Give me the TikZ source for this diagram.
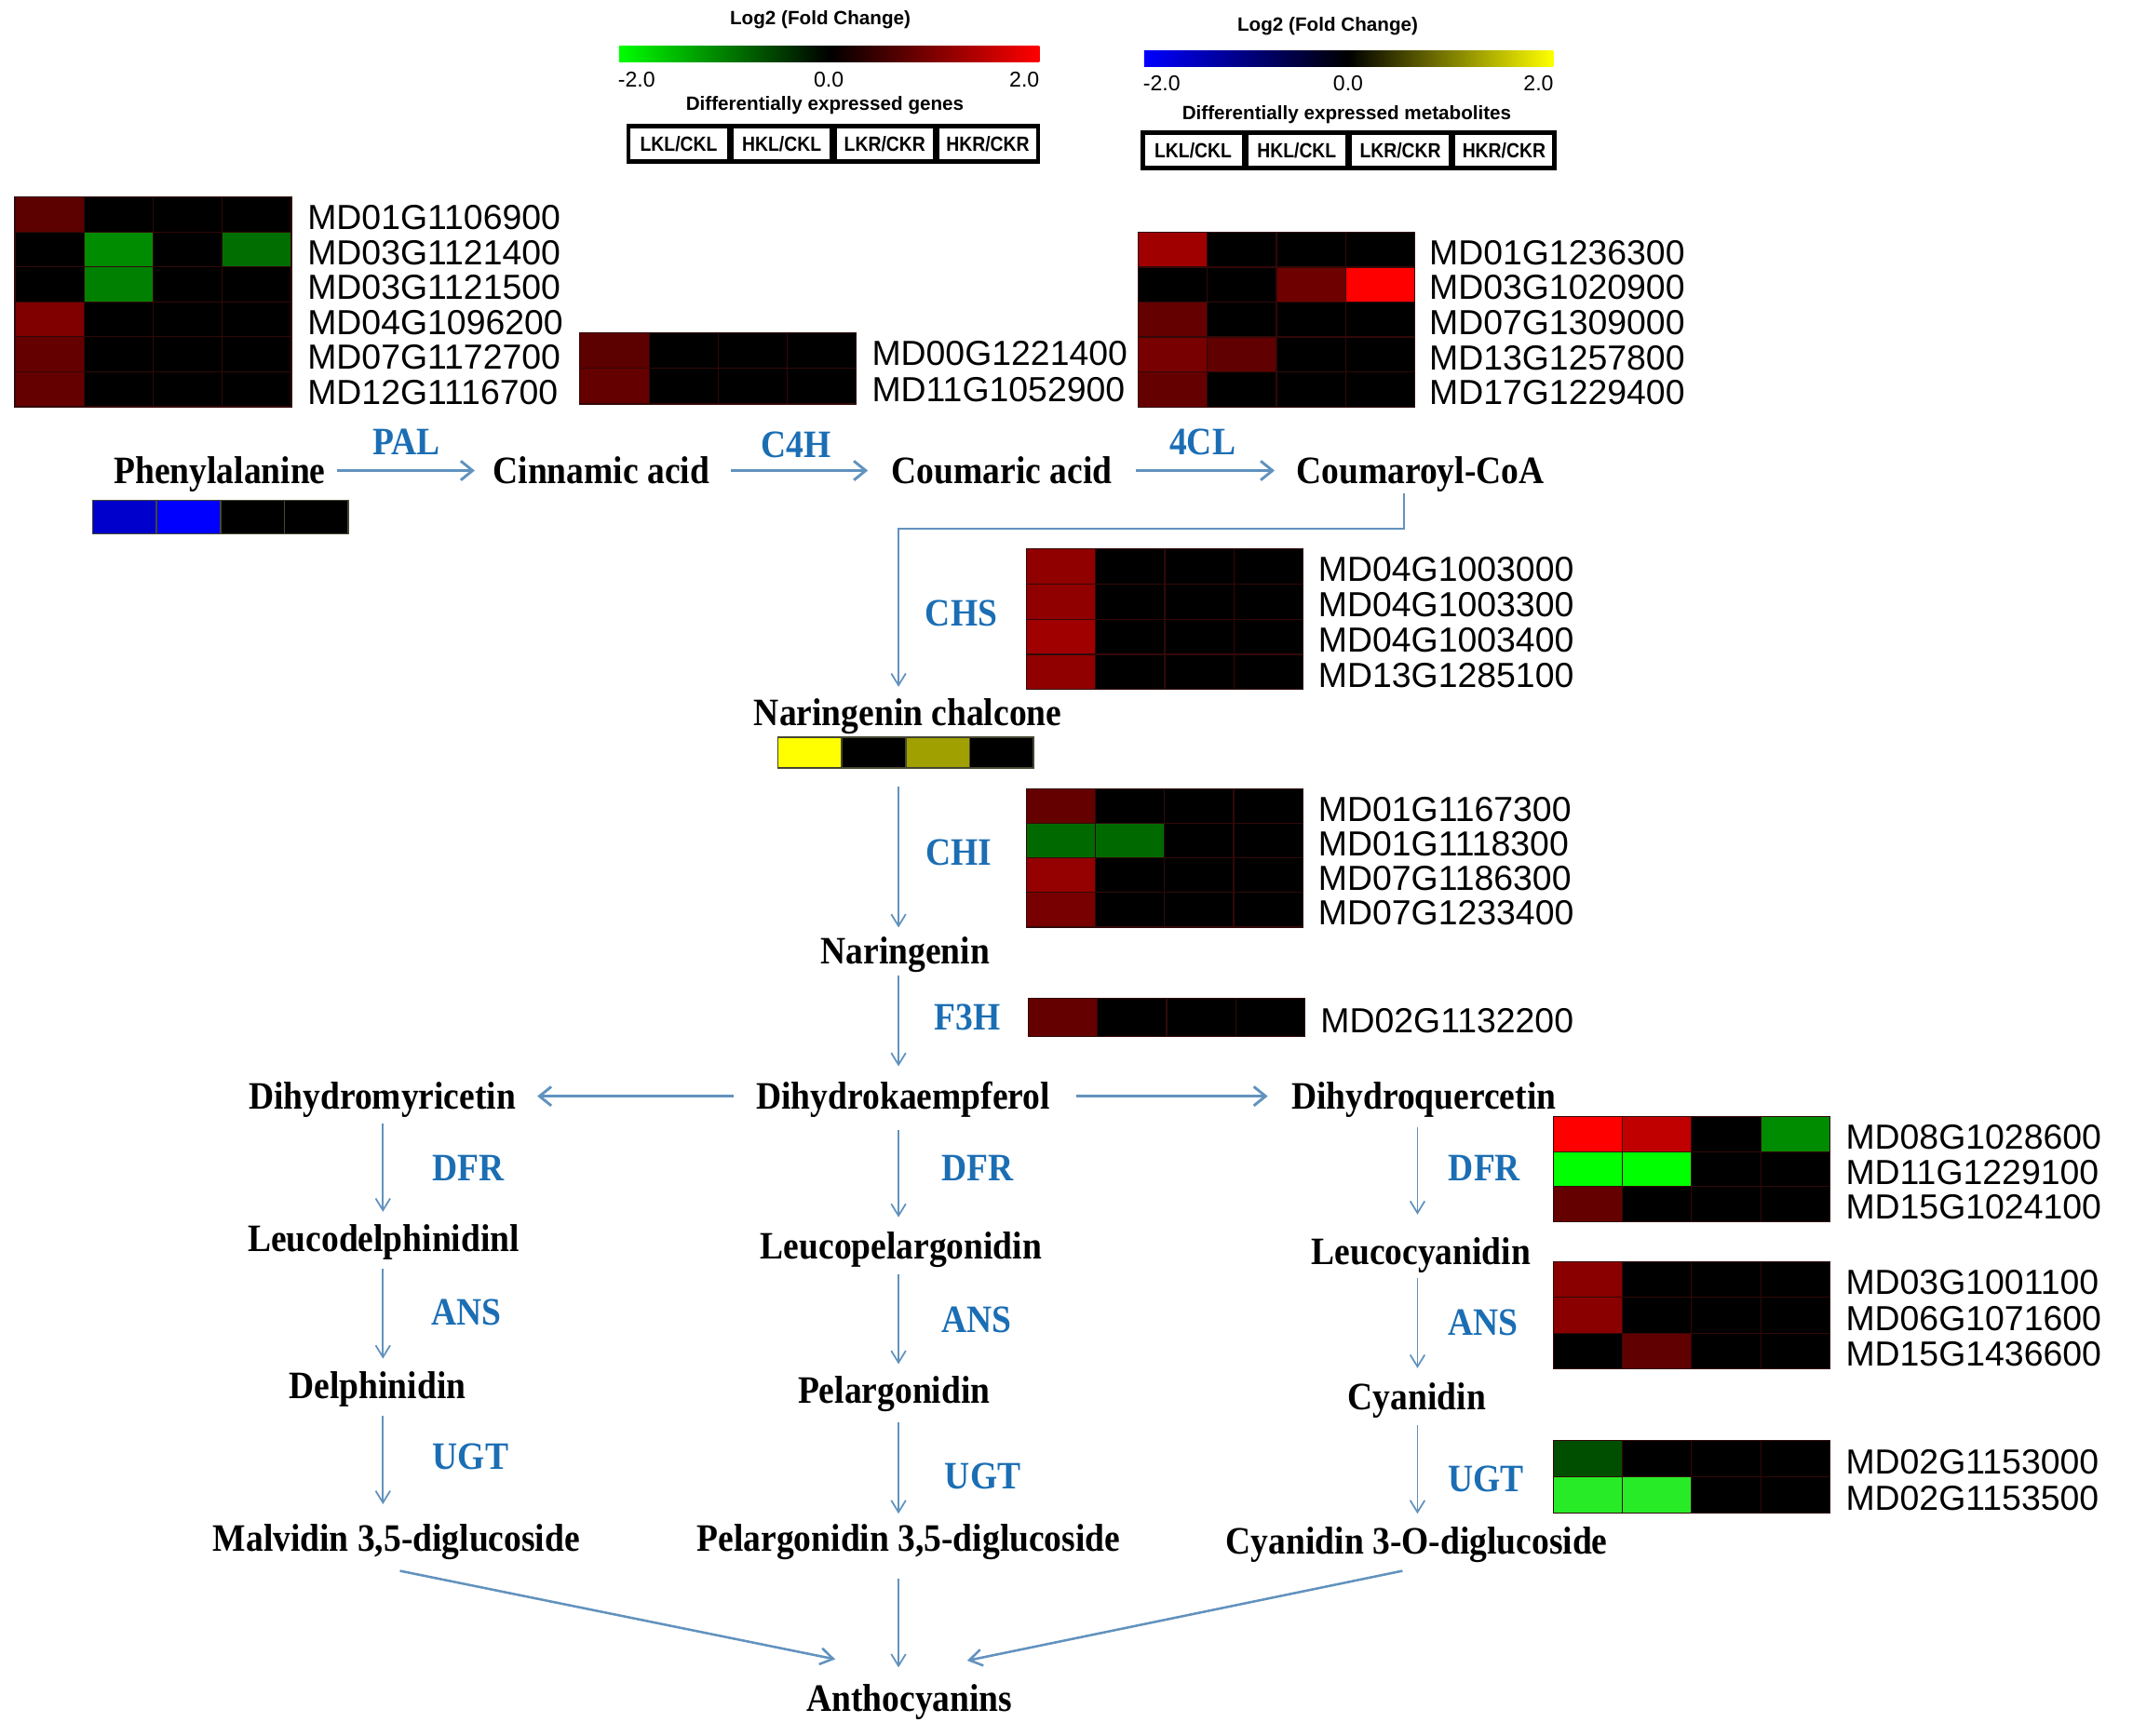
\documentclass[tikz,border=0pt]{standalone}
\usepackage{fontspec}
\setmainfont{Liberation Sans}
\newfontfamily\metabfont[FakeStretch=0.9]{Liberation Serif}
\newfontfamily\boxfont[FakeStretch=0.88]{Liberation Sans}
\usetikzlibrary{arrows.meta}

\definecolor{arrowblue}{RGB}{98,146,190}
\definecolor{enzblue}{RGB}{27,110,180}
\definecolor{hmgrid}{RGB}{50,8,8}
\definecolor{mbord}{RGB}{70,70,50}
\definecolor{kk}{RGB}{0,0,0}
\definecolor{r5a}{RGB}{92,0,0}
\definecolor{r60}{RGB}{96,0,0}
\definecolor{r65}{RGB}{101,0,0}
\definecolor{r6e}{RGB}{110,0,0}
\definecolor{r78}{RGB}{120,0,0}
\definecolor{r80}{RGB}{128,0,0}
\definecolor{r8a}{RGB}{138,0,0}
\definecolor{r90}{RGB}{144,0,0}
\definecolor{r95}{RGB}{149,0,0}
\definecolor{ra0}{RGB}{160,0,0}
\definecolor{rc0}{RGB}{192,0,0}
\definecolor{rff}{RGB}{255,0,0}
\definecolor{g4e}{RGB}{0,78,0}
\definecolor{g6a}{RGB}{0,106,0}
\definecolor{g6e}{RGB}{0,110,0}
\definecolor{g80}{RGB}{0,128,0}
\definecolor{g8c}{RGB}{0,140,0}
\definecolor{gff}{RGB}{0,255,0}
\definecolor{glt}{RGB}{40,235,40}
\definecolor{pb1}{RGB}{0,0,204}
\definecolor{pb2}{RGB}{0,0,255}
\definecolor{yel}{RGB}{255,255,0}
\definecolor{olv}{RGB}{160,160,0}

\tikzset{
  metab/.style={font=\metabfont\bfseries\fontsize{21.4}{21.4}\selectfont, inner sep=0pt, text height=14.2pt, text depth=0pt},
  enz/.style={metab, text=enzblue},
  gene/.style={font=\fontsize{19.2}{19.2}\selectfont, anchor=west, inner sep=0pt, text height=13.7pt, text depth=0pt},
  legtitle/.style={font=\bfseries\fontsize{10.6}{10.6}\selectfont, inner sep=0pt, text height=7.6pt, text depth=0pt},
  legnum/.style={font=\fontsize{11.85}{11.85}\selectfont, inner sep=0pt, text height=8.5pt, text depth=0pt},
  boxlab/.style={font=\boxfont\bfseries\fontsize{11.3}{11.3}\selectfont, inner sep=0pt, text height=8.1pt, text depth=0pt},
  conn/.style={draw=arrowblue},
  harrow/.style={conn, line width=1.5pt, -{Straight Barb[length=6.5pt,width=10.5pt]}},
  varrow/.style={conn, line width=0.9pt, -{Straight Barb[length=6.5pt,width=8pt]}},
  darrow/.style={conn, line width=1.3pt, -{Straight Barb[length=7pt,width=9pt]}},
  hmcell/.style={draw=hmgrid, line width=0.6pt},
  mbcell/.style={draw=mbord, line width=0.8pt},
}

% #1 name, #2 x0, #3 y0, #4 row height, #5 label x, #6 rows c1/c2/c3/c4/label
\newcommand\heatmap[6]{%
  \foreach[count=\r from 0] \ca/\cb/\cc/\cd/\gl in {#6}{%
    \foreach[count=\c from 0] \cl in {\ca,\cb,\cc,\cd}{%
      \filldraw[hmcell, fill=\cl] ({#2+\c*50.8},{#3+\r*#4}) rectangle ++(50.8,#4);
    }
    \node[gene] (#1-\r) at (#5,{#3+(\r+0.5)*#4+2}) {\gl};
  }%
}
% metabolite bar: #1 x0, #2 y0, #3 cell w, #4 h, #5 colours
\newcommand\mbar[5]{%
  \foreach[count=\c from 0] \cl in {#5}{%
    \filldraw[mbcell, fill=\cl] ({#1+\c*#3},#2) rectangle ++(#3,#4);
  }%
}
% legend box: #1 x0, #2 y0, #3 x1, #4 y1, #5 name
\newcommand\legbox[5]{%
  \fill[black] (#1,#2) rectangle (#3,#4);
  \pgfmathsetmacro\cw{(#3-#1-21)/4}
  \foreach[count=\i from 0] \t in {LKL/CKL,HKL/CKL,LKR/CKR,HKR/CKR}{%
    \fill[white] ({#1+3+\i*(\cw+5)},{#2+3.4}) rectangle ++(\cw,{#4-#2-6.8});
    \node[boxlab] (#5-\i) at ({#1+3+\i*(\cw+5)+\cw/2},{(#2+#4)/2}) {\t};
  }%
}

\begin{document}
\begin{tikzpicture}[x=0.75pt,y=-0.75pt]
\useasboundingbox (0,0) rectangle (1568,1276);
\fill[white] (0,0) rectangle (1568,1276);

% ---------- legends ----------
\node[legtitle] (lt1) at (603,13.4) {Log2 (Fold Change)};
\shade[left color=gff, right color=rff, middle color=black] (455,33.7) rectangle (764,45.6);
\node[legnum] (l1a) at (468,58.4) {-2.0};
\node[legnum] (l1b) at (609.2,58.4) {0.0};
\node[legnum] (l1c) at (753,58.4) {2.0};
\node[legtitle] (ls1) at (606.4,76) {Differentially expressed genes};
\legbox{460.6}{90.8}{764.5}{120.3}{lb1}

\node[legtitle] (lt2) at (976,17.7) {Log2 (Fold Change)};
\shade[left color=pb2, right color=yel, middle color=black] (841,37.6) rectangle (1141.8,48.6);
\node[legnum] (l2a) at (854,61.4) {-2.0};
\node[legnum] (l2b) at (991,61.4) {0.0};
\node[legnum] (l2c) at (1131,61.4) {2.0};
\node[legtitle] (ls2) at (990,83) {Differentially expressed metabolites};
\legbox{838.5}{95.8}{1144.2}{125.5}{lb2}

% ---------- heatmaps ----------
\heatmap{pal}{11}{144.9}{25.7}{225.8}{r5a/kk/kk/kk/MD01G1106900, kk/g8c/kk/g6e/MD03G1121400, kk/g80/kk/kk/MD03G1121500, r80/kk/kk/kk/MD04G1096200, r65/kk/kk/kk/MD07G1172700, r65/kk/kk/kk/MD12G1116700}
\heatmap{cfh}{426.3}{244.6}{26.2}{640.7}{r5a/kk/kk/kk/MD00G1221400, r65/kk/kk/kk/MD11G1052900}
\heatmap{fcl}{836.7}{170.7}{25.7}{1050.4}{ra0/kk/kk/kk/MD01G1236300, kk/kk/r6e/rff/MD03G1020900, r65/kk/kk/kk/MD07G1309000, r78/r60/kk/kk/MD13G1257800, r65/kk/kk/kk/MD17G1229400}
\heatmap{chs}{754.6}{403.4}{25.9}{968.8}{r90/kk/kk/kk/MD04G1003000, r90/kk/kk/kk/MD04G1003300, ra0/kk/kk/kk/MD04G1003400, r90/kk/kk/kk/MD13G1285100}
\heatmap{chi}{754.5}{579.9}{25.45}{968.8}{r65/kk/kk/kk/MD01G1167300, g6a/g6a/kk/kk/MD01G1118300, r95/kk/kk/kk/MD07G1186300, r78/kk/kk/kk/MD07G1233400}
\heatmap{fth}{756}{734}{28}{970.5}{r65/kk/kk/kk/MD02G1132200}
\heatmap{dfr}{1141.9}{820.9}{25.8}{1356.6}{rff/rc0/kk/g8c/MD08G1028600, gff/gff/kk/kk/MD11G1229100, r65/kk/kk/kk/MD15G1024100}
\heatmap{ans}{1141.9}{927.5}{26.4}{1356.6}{r8a/kk/kk/kk/MD03G1001100, r8a/kk/kk/kk/MD06G1071600, kk/r60/kk/kk/MD15G1436600}
\heatmap{ugt}{1141.9}{1059.3}{26.7}{1356.6}{g4e/kk/kk/kk/MD02G1153000, glt/glt/kk/kk/MD02G1153500}

% metabolite bars
\mbar{68.1}{367.8}{46.97}{24.6}{pb1,pb2,kk,kk}
\mbar{571.9}{541.9}{46.97}{22.8}{yel,kk,olv,kk}

% ---------- metabolites ----------
\node[metab] (phe) at (161.5,346) {Phenylalanine};
\node[metab] (cin) at (442,346) {Cinnamic acid};
\node[metab] (cou) at (736.5,346) {Coumaric acid};
\node[metab] (coa) at (1044,346) {Coumaroyl-CoA};
\node[metab] (nc) at (667.4,524) {Naringenin chalcone};
\node[metab] (nar) at (665.5,699) {Naringenin};
\node[metab] (dhk) at (664,806) {Dihydrokaempferol};
\node[metab] (dhm) at (281,806) {Dihydromyricetin};
\node[metab] (dhq) at (1046.6,806) {Dihydroquercetin};
\node[metab] (ld) at (282,911) {Leucodelphinidinl};
\node[metab] (lp) at (662.5,916) {Leucopelargonidin};
\node[metab] (lc) at (1044.6,920) {Leucocyanidin};
\node[metab] (del) at (277.5,1019) {Delphinidin};
\node[metab] (pel) at (657.2,1022) {Pelargonidin};
\node[metab] (cya) at (1041.6,1027) {Cyanidin};
\node[metab] (mal) at (291.5,1131) {Malvidin 3,5-diglucoside};
\node[metab] (p35) at (668,1131) {Pelargonidin 3,5-diglucoside};
\node[metab] (c3o) at (1041.5,1133) {Cyanidin 3-O-diglucoside};
\node[metab] (ant) at (668.6,1249) {Anthocyanins};

% ---------- enzymes ----------
\node[enz] (ePAL) at (298.6,325) {PAL};
\node[enz] (eC4H) at (585,327) {C4H};
\node[enz] (e4CL) at (884,325) {4CL};
\node[enz] (eCHS) at (706.7,451) {CHS};
\node[enz] (eCHI) at (705,627) {CHI};
\node[enz] (eF3H) at (711,748) {F3H};
\node[enz] (eDFR1) at (344,859) {DFR};
\node[enz] (eDFR2) at (718.4,859) {DFR};
\node[enz] (eDFR3) at (1091.3,859) {DFR};
\node[enz] (eANS1) at (343,965) {ANS};
\node[enz] (eANS2) at (718,970) {ANS};
\node[enz] (eANS3) at (1090.4,972) {ANS};
\node[enz] (eUGT1) at (346,1071) {UGT};
\node[enz] (eUGT2) at (722.5,1085) {UGT};
\node[enz] (eUGT3) at (1092.3,1087) {UGT};

% ---------- connectors ----------
\coordinate (colL) at (281.5,0);
\coordinate (colM) at (660.5,0);
\coordinate (colR) at (1042,0);
\coordinate (kink) at (1032,389);

\draw[harrow, shorten <=64.9pt, shorten >=69.75pt] (phe.center) -- (cin.center);
\draw[harrow, shorten <=71.25pt, shorten >=73.9pt] (cin.center) -- (cou.center);
\draw[harrow, shorten <=73.9pt, shorten >=80.25pt] (cou.center) -- (coa.center);

\draw[varrow, shorten <=12.75pt, shorten >=14.25pt] (kink |- coa) -- (kink) -| (colM |- nc);
\draw[varrow, shorten <=40.5pt, shorten >=12.75pt] (colM |- nc) -- (colM |- nar);
\draw[varrow, shorten <=13.5pt, shorten >=16.5pt] (colM |- nar) -- (colM |- dhk);

\draw[harrow, shorten <=93.75pt, shorten >=85.5pt] (dhk.center) -- (dhm.center);
\draw[harrow, shorten <=95.25pt, shorten >=86pt] (dhk.center) -- (dhq.center);

\draw[varrow, shorten <=15pt, shorten >=15pt] (colL |- dhm) -- (colL |- ld);
\draw[varrow, shorten <=16.5pt, shorten >=15pt] (colL |- ld) -- (colL |- del);
\draw[varrow, shorten <=16.5pt, shorten >=18.75pt] (colL |- del) -- (colL |- mal);

\draw[varrow, shorten <=18.75pt, shorten >=15.75pt] (colM |- dhk) -- (colM |- lp);
\draw[varrow, shorten <=15.75pt, shorten >=14.25pt] (colM |- lp) -- (colM |- pel);
\draw[varrow, shorten <=18pt, shorten >=13.5pt] (colM |- pel) -- (colM |- p35);

\draw[varrow, shorten <=17.25pt, shorten >=20.25pt] (colR |- dhq) -- (colR |- lc);
\draw[varrow, shorten <=15pt, shorten >=15.75pt] (colR |- lc) -- (colR |- cya);
\draw[varrow, shorten <=15.75pt, shorten >=15pt] (colR |- cya) -- (colR |- c3o);

\draw[darrow] ([shift={(2.5,24)}]mal.center) -- ([shift={(-54.6,-29)}]ant.center);
\draw[varrow, shorten <=22.5pt, shorten >=17.25pt] (colM |- p35) -- (colM |- ant);
\draw[darrow] ([shift={(-10.5,22)}]c3o.center) -- ([shift={(42.4,-28)}]ant.center);
\end{tikzpicture}
\end{document}
